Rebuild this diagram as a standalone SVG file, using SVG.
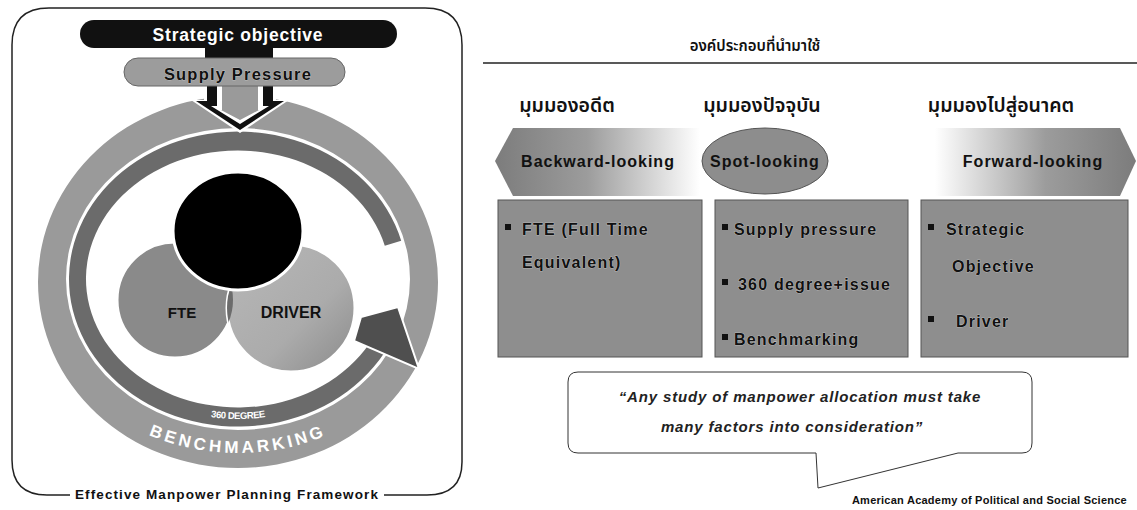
<svg xmlns="http://www.w3.org/2000/svg" width="1137" height="510" viewBox="0 0 1137 510">
<defs>
<style>
.b{font-family:"Liberation Sans",Arial,sans-serif;font-weight:bold}
.th{font-family:"Noto Sans Thai","Leelawadee UI","Tahoma","Noto Sans","DejaVu Sans",sans-serif;fill:#111;font-weight:600}
.box{fill:#8e8e8e;stroke:#555;stroke-width:1}
.bt{font-family:"Liberation Sans",Arial,sans-serif;font-weight:bold;font-size:16px;letter-spacing:1.2px;fill:#111;stroke:#d8d8d8;stroke-width:0.6;paint-order:stroke}
.st{font-family:"Liberation Sans",Arial,sans-serif;font-weight:bold;font-size:16px;letter-spacing:1px;fill:#111}
.bul{fill:#111}
.frame{fill:none;stroke:#222;stroke-width:1.5}
.wtxt{fill:#fff}
</style>
<linearGradient id="gBack" x1="0" x2="1" y1="0" y2="0"><stop offset="0" stop-color="#7c7c7c"/><stop offset="0.45" stop-color="#9c9c9c"/><stop offset="1" stop-color="#ffffff"/></linearGradient>
<linearGradient id="gFwd" x1="0" x2="1" y1="0" y2="0"><stop offset="0" stop-color="#ffffff"/><stop offset="0.55" stop-color="#9c9c9c"/><stop offset="1" stop-color="#7c7c7c"/></linearGradient>
<linearGradient id="gDrv" x1="0" y1="0" x2="1" y2="1"><stop offset="0" stop-color="#b8b8b8"/><stop offset="0.6" stop-color="#ababab"/><stop offset="1" stop-color="#8a8a8a"/></linearGradient>
<clipPath id="clipDrv"><circle cx="291" cy="308" r="64"/></clipPath>
<path id="benchPath" d="M 28,263 A 210,190 0 0 0 448,263"/>
<path id="degPath" d="M 76,279 A 162,140 0 0 0 400,279"/>
</defs>

<!-- LEFT PANEL -->
<g id="frame">
<path class="frame" d="M 70,495 L 47,495 Q 12,495 12,460 L 12,45 Q 12,8 49,8 L 425,8 Q 462,8 462,45 L 462,462 Q 462,495 427,495 L 384,495"/>
<text class="b" x="227" y="499" font-size="13.5" letter-spacing="1.1" text-anchor="middle" fill="#111">Effective Manpower Planning Framework</text>
</g>

<g id="benchmarking-ring">
<path fill="#9a9a9a" fill-rule="evenodd" d="M 38,282 A 200,186 0 1 0 438,282 A 200,186 0 1 0 38,282 Z M 66,279 A 172,151 0 1 0 410,279 A 172,151 0 1 0 66,279 Z"/>
<text class="b wtxt" font-size="17" letter-spacing="3.5"><textPath href="#benchPath" startOffset="50%" text-anchor="middle">BENCHMARKING</textPath></text>
</g>

<g id="degree-ring">
<path fill="#6b6b6b" d="M 401.2,240.8 A 169,147.5 0 1 0 384.4,352.75 L 369.6,343.25 A 152,128.5 0 1 1 384.8,245.7 Z"/>
<polygon points="354,341 361,317 398,307 419,369" fill="#4f4f4f" stroke="#fff" stroke-width="2" stroke-linejoin="miter"/>
<text class="b wtxt" font-size="9.5" letter-spacing="-0.4"><textPath href="#degPath" startOffset="50%" text-anchor="middle">360 DEGREE</textPath></text>
</g>

<g id="fte">
<circle cx="175" cy="300" r="58" fill="#8a8a8a" stroke="#fff" stroke-width="3"/>
</g>
<g id="driver">
<circle cx="291" cy="308" r="64" fill="url(#gDrv)" stroke="#fff" stroke-width="3"/>
<circle cx="175" cy="300" r="58" fill="#6c6c6c" clip-path="url(#clipDrv)"/>
</g>
<g id="core">
<ellipse cx="238" cy="231" rx="65" ry="59" fill="#000" stroke="#fff" stroke-width="3"/>
</g>
<text class="b" x="182" y="318" font-size="15" text-anchor="middle" fill="#111">FTE</text>
<text class="b" x="291" y="318" font-size="16" text-anchor="middle" fill="#111">DRIVER</text>

<g id="strategic-objective">
<rect x="80" y="20" width="317" height="28" rx="14" fill="#111"/>
<rect x="205" y="44" width="68" height="16" fill="#111"/>
<text class="b wtxt" x="238" y="41" font-size="17.5" letter-spacing="0.8" text-anchor="middle">Strategic objective</text>
</g>

<g id="supply-pressure">
<polygon points="204,84 204,100 191,100 240,133 289,100 276,100 276,84" fill="#fff"/>
<polygon points="207,84 207,101 196,101 240,130 284,101 273,101 273,84" fill="#111"/>
<polygon points="217,84 217,106 211,106 240,124 269,106 263,106 263,84" fill="#fff"/>
<polygon points="222,84 222,110 221,110 240,120 259,110 258,110 258,84" fill="#9a9a9a"/>
<rect x="124" y="58" width="221" height="28" rx="14" fill="#9c9c9c" stroke="#666" stroke-width="1"/>
<text class="b" x="238" y="80" font-size="16.5" letter-spacing="1.2" text-anchor="middle" fill="#111" stroke="#ddd" stroke-width="0.6" paint-order="stroke">Supply Pressure</text>
</g>

<!-- RIGHT PANEL -->
<g id="header">
<text class="th" x="755" y="51" font-size="15" font-weight="500" text-anchor="middle">องค์ประกอบที่นำมาใช้</text>
<line x1="483" y1="63" x2="1137" y2="63" stroke="#222" stroke-width="1.5"/>
</g>

<g id="backward">
<text class="th" x="567" y="112" font-size="19.5" text-anchor="middle">มุมมองอดีต</text>
<polygon points="495,161 513,128 700,128 700,196 513,196" fill="url(#gBack)"/>
<text class="st" x="598" y="167" text-anchor="middle">Backward-looking</text>
<rect class="box" x="498" y="200" width="204" height="157"/>
<rect class="bul" x="505" y="224" width="6" height="6"/>
<text class="bt" x="522" y="235">FTE (Full Time</text>
<text class="bt" x="522" y="268">Equivalent)</text>
</g>

<g id="spot">
<text class="th" x="762" y="112" font-size="19.5" text-anchor="middle">มุมมองปัจจุบัน</text>
<ellipse cx="765" cy="161" rx="63" ry="33" fill="#8d8d8d" stroke="#555" stroke-width="1"/>
<text class="st" x="765" y="167" text-anchor="middle">Spot-looking</text>
<rect class="box" x="715" y="200" width="193" height="157"/>
<rect class="bul" x="722" y="224" width="6" height="6"/>
<text class="bt" x="734" y="235">Supply pressure</text>
<rect class="bul" x="722" y="279" width="6" height="6"/>
<text class="bt" x="738" y="290" letter-spacing="1.6">360 degree+issue</text>
<rect class="bul" x="722" y="334" width="6" height="6"/>
<text class="bt" x="734" y="345">Benchmarking</text>
</g>

<g id="forward">
<text class="th" x="1001" y="112" font-size="19.5" text-anchor="middle">มุมมองไปสู่อนาคต</text>
<polygon points="935,128 1120,128 1136,161 1120,196 935,196" fill="url(#gFwd)"/>
<text class="st" x="1033" y="167" text-anchor="middle">Forward-looking</text>
<rect class="box" x="921" y="200" width="207" height="157"/>
<rect class="bul" x="928" y="224" width="6" height="6"/>
<text class="bt" x="946" y="235">Strategic</text>
<text class="bt" x="952" y="272">Objective</text>
<rect class="bul" x="928" y="316" width="6" height="6"/>
<text class="bt" x="956" y="327">Driver</text>
</g>

<g id="quote">
<path d="M 578,372 H 1022 Q 1032,372 1032,382 V 443 Q 1032,453 1022,453 H 958 L 818,488 L 816,453 H 578 Q 568,453 568,443 V 382 Q 568,372 578,372 Z" fill="none" stroke="#333" stroke-width="1"/>
<text class="b" x="800" y="402" font-size="15" font-style="italic" letter-spacing="0.85" text-anchor="middle" fill="#222">“Any study of manpower allocation must take</text>
<text class="b" x="792" y="432" font-size="15" font-style="italic" letter-spacing="0.85" text-anchor="middle" fill="#222">many factors into consideration”</text>
</g>
<text class="b" x="1127" y="504" font-size="11" letter-spacing="0.25" text-anchor="end" fill="#111">American Academy of Political and Social Science</text>
</svg>
